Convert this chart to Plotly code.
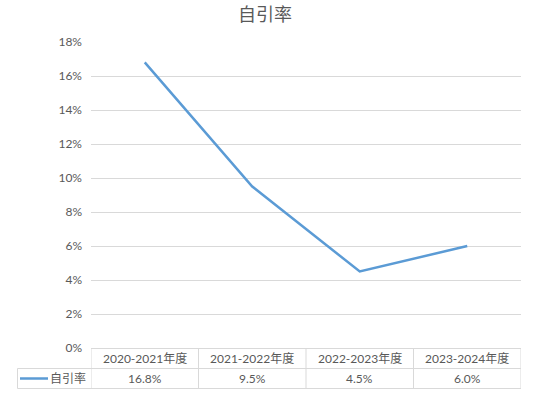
import plotly.graph_objects as go

categories = ["2020-2021年度", "2021-2022年度", "2022-2023年度", "2023-2024年度"]
values = [0.168, 0.095, 0.045, 0.060]
series_name = "自引率"
title_text = "自引率"

FONT = "Lato, 'Noto Sans CJK SC', sans-serif"
GRAY = "#595959"
GRID = "#d9d9d9"
LINE = "#5B9BD5"

W, H = 543, 393
L, R, T, B = 91, 22, 42, 45
ph = H - T - B
pw = W - L - R

def py(pix):
    return (H - B - pix) / ph

def px(pix):
    return (pix - L) / pw

fig = go.Figure()
fig.add_trace(go.Scatter(
    x=list(range(len(categories))), y=values, mode="lines",
    line=dict(color=LINE, width=2.5), name=series_name, showlegend=False,
    hoverinfo="skip"))

shapes = []
y_top, y_mid, y_bot = py(348.5), py(368.5), py(388.5)
shapes.append(dict(type="line", xref="x", yref="paper", x0=-0.5, x1=len(categories) - 0.5,
                   y0=y_top, y1=y_top, line=dict(color=GRID, width=1)))
for yy in (y_mid, y_bot):
    shapes.append(dict(type="line", xref="paper", yref="paper", x0=px(17.5), x1=1,
                       y0=yy, y1=yy, line=dict(color=GRID, width=1)))
for i in range(len(categories) + 1):
    shapes.append(dict(type="line", xref="x", yref="paper", x0=i - 0.5, x1=i - 0.5,
                       y0=y_top, y1=y_bot, line=dict(color=GRID, width=1)))
shapes.append(dict(type="line", xref="paper", yref="paper", x0=px(17.5), x1=px(17.5),
                   y0=y_mid, y1=y_bot, line=dict(color=GRID, width=1)))
shapes.append(dict(type="line", xref="paper", yref="paper", x0=px(20), x1=px(48),
                   y0=py(378.5), y1=py(378.5), line=dict(color=LINE, width=2.5)))

txt = dict(showarrow=False, xanchor="center", yanchor="middle",
           font=dict(family=FONT, size=12, color=GRAY))
annotations = []
for i, c in enumerate(categories):
    annotations.append(dict(x=i, y=py(358.5), xref="x", yref="paper", text=c, **txt))
    annotations.append(dict(x=i, y=py(378.5), xref="x", yref="paper",
                            text=f"{values[i]*100:.1f}%", **txt))
annotations.append(dict(x=px(68), y=py(378.5), xref="paper", yref="paper", text=series_name, **txt))
annotations.append(dict(x=px(265), y=py(14), xref="paper", yref="paper", text=title_text,
                        showarrow=False, xanchor="center", yanchor="middle",
                        font=dict(family=FONT, size=18, color=GRAY)))

fig.update_layout(
    width=W, height=H,
    margin=dict(l=L, r=R, t=T, b=B, pad=0),
    paper_bgcolor="white", plot_bgcolor="white",
    xaxis=dict(range=[-0.5, len(categories) - 0.5], showticklabels=False, showgrid=False,
               zeroline=False, showline=False, ticks=""),
    yaxis=dict(range=[0, 0.18], dtick=0.02, tickformat=".0%", showgrid=True, gridcolor=GRID,
               gridwidth=1, zeroline=False, showline=False, ticks="",
               tickfont=dict(family=FONT, size=12, color=GRAY), ticklabelstandoff=8),
    shapes=shapes, annotations=annotations, showlegend=False,
)

fig.write_html("out.html", post_script="document.body.style.margin='0';",
               config={"displayModeBar": False})
